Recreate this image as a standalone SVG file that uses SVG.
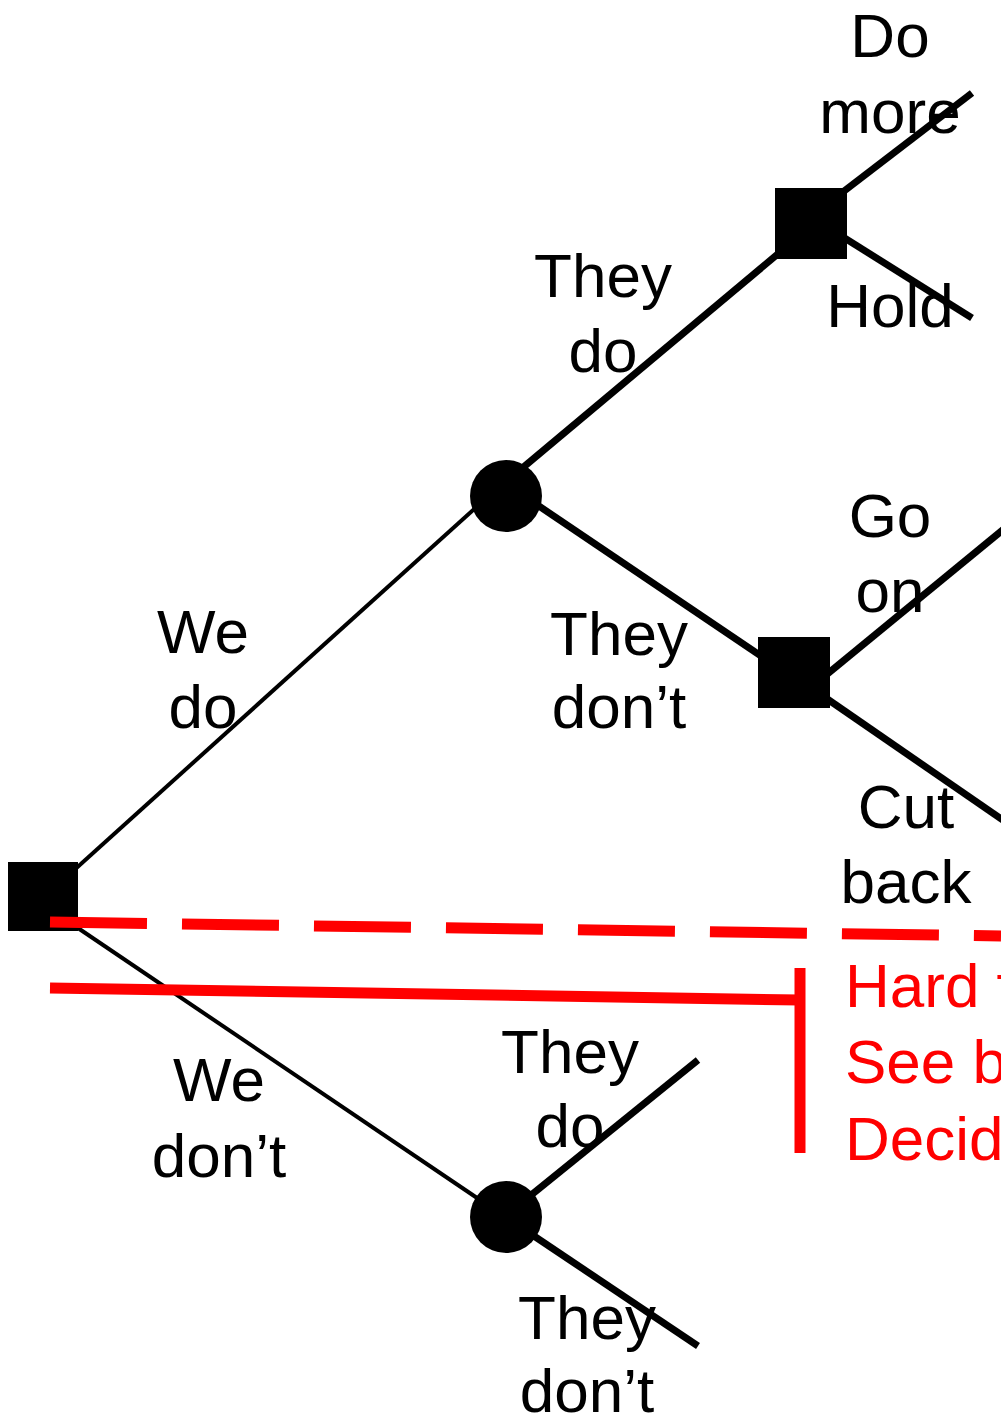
<svg xmlns="http://www.w3.org/2000/svg" width="1001" height="1418" viewBox="0 0 1001 1418">
<style>
text{font-family:"Liberation Sans",Arial,sans-serif;font-size:62px;text-anchor:middle;fill:#000}
.red{fill:#ff0000;text-anchor:start}
.thin{stroke:#000;stroke-width:4;fill:none}
.thick{stroke:#000;stroke-width:7;fill:none}
.node{fill:#000}
</style>
<rect width="1001" height="1418" fill="#fff"/>
<g id="connectors">
<line class="thin" x1="72" y1="872" x2="482" y2="502"/>
<line class="thin" x1="72" y1="924" x2="486" y2="1204"/>
<line class="thick" x1="520" y1="470" x2="785" y2="248"/>
<line class="thick" x1="530" y1="500" x2="770" y2="662"/>
<line class="thick" x1="835" y1="198" x2="972" y2="93"/>
<line class="thick" x1="835" y1="232" x2="972" y2="318"/>
<line class="thick" x1="820" y1="680" x2="1010" y2="524"/>
<line class="thick" x1="820" y1="694" x2="1010" y2="825"/>
<line class="thick" x1="525" y1="1200" x2="698" y2="1060"/>
<line class="thick" x1="525" y1="1230" x2="698" y2="1346"/>
</g>
<g id="root"><rect class="node" x="8" y="862" width="70" height="69"/></g>
<g id="chance1"><circle class="node" cx="506" cy="496" r="36"/></g>
<g id="decision-upper"><rect class="node" x="775" y="188" width="72" height="71"/></g>
<g id="decision-middle"><rect class="node" x="758" y="637" width="72" height="71"/></g>
<g id="chance2"><circle class="node" cx="506" cy="1217" r="36"/></g>
<g id="labels">
<text x="890" y="57">Do</text>
<text x="890" y="133">more</text>
<text x="890" y="327">Hold</text>
<text x="603" y="297">They</text>
<text x="603" y="372">do</text>
<text x="203" y="653">We</text>
<text x="203" y="728">do</text>
<text x="619" y="655">They</text>
<text x="619" y="728">don’t</text>
<text x="890" y="537">Go</text>
<text x="890" y="612">on</text>
<text x="906" y="828">Cut</text>
<text x="906" y="903">back</text>
<text x="219" y="1101">We</text>
<text x="219" y="1177">don’t</text>
<text x="570" y="1073">They</text>
<text x="570" y="1147">do</text>
<text x="587" y="1339">They</text>
<text x="587" y="1412">don’t</text>
</g>
<g id="annotation">
<line x1="50" y1="922" x2="1001" y2="936" stroke="#ff0000" stroke-width="11" stroke-dasharray="97 35"/>
<line x1="50" y1="988" x2="800" y2="1000" stroke="#ff0000" stroke-width="11"/>
<line x1="800" y1="968" x2="800" y2="1153" stroke="#ff0000" stroke-width="11"/>
<text class="red" x="845" y="1007">Hard t</text>
<text class="red" x="845" y="1083">See b</text>
<text class="red" x="845" y="1160">Decid</text>
</g>
</svg>
